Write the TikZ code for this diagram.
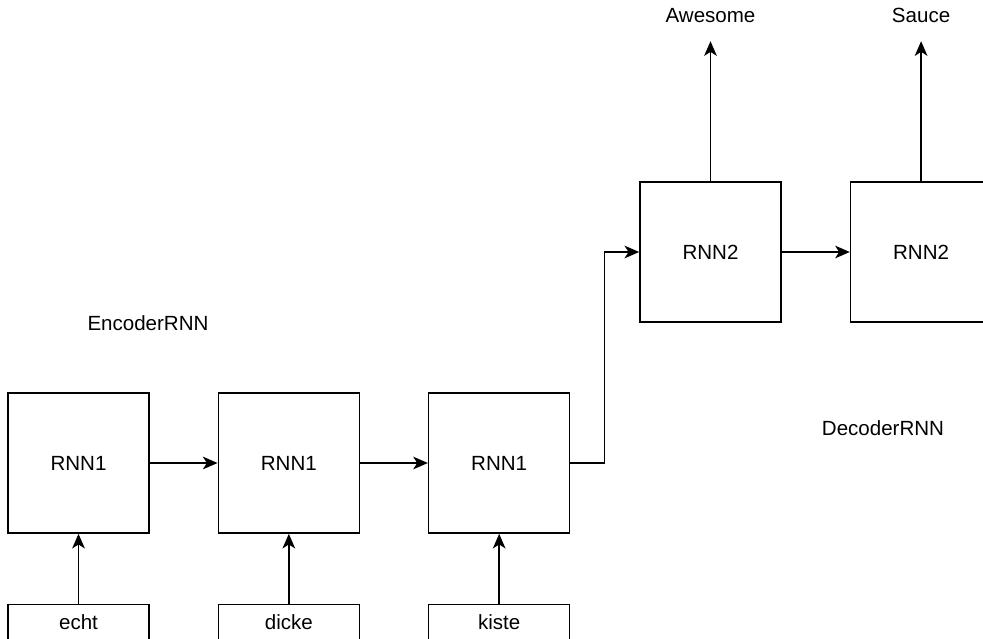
\documentclass[tikz,border=0pt]{standalone}
\usepackage{fontspec}
\setmainfont{Liberation Sans}
\usepackage{tikz}
\usetikzlibrary{arrows.meta,positioning}
\tikzset{
  rnnbox/.style={rectangle,draw=black,line width=1.2pt,fill=white,align=center,minimum width=105.75pt,minimum height=105pt,font=\fontsize{15.4}{18}\selectfont},
  wordbox/.style={rectangle,draw=black,line width=1.2pt,fill=white,align=center,minimum width=105.75pt,minimum height=26.25pt,inner sep=0pt,font=\fontsize{15.4}{18}\selectfont},
  outword/.style={inner sep=0pt,outer ysep=14pt,font=\fontsize{15.4}{18}\selectfont},
  caption/.style={inner sep=0pt,font=\fontsize{15.4}{18}\selectfont},
  link/.style={-{Stealth[length=11pt,width=9.5pt,inset=3pt]},line width=1.2pt,draw=black}
}
\begin{document}
\begin{tikzpicture}[x=0.75pt,y=-0.75pt,node distance=50.8pt]
\clip (0,0) rectangle (983,639);
% encoder
\node[rnnbox] (enc1) at (78.5,463) {RNN1};
\node[rnnbox,right=of enc1] (enc2) {RNN1};
\node[rnnbox,right=of enc2] (enc3) {RNN1};
\node[wordbox,below=52.5pt of enc1] (in1) {echt};
\node[wordbox,below=52.5pt of enc2] (in2) {dicke};
\node[wordbox,below=52.5pt of enc3] (in3) {kiste};
% decoder
\node[rnnbox] (dec1) at (710.5,252) {RNN2};
\node[rnnbox,right=51pt of dec1] (dec2) {RNN2};
\node[outword,above=105pt of dec1] (out1) {Awesome};
\node[outword,above=105pt of dec2] (out2) {Sauce};
% captions
\node[caption] (enclabel) at (148,323) {EncoderRNN};
\node[caption] (declabel) at (883,428) {DecoderRNN};
\draw[link] (in1) -- (enc1);
\draw[link] (in2) -- (enc2);
\draw[link] (in3) -- (enc3);
\draw[link] (enc1) -- (enc2);
\draw[link] (enc2) -- (enc3);
\draw[link] (enc3.east) -- ++(34,0) |- (dec1.west);
\draw[link] (dec1) -- (dec2);
\draw[link] (dec1) -- (out1);
\draw[link] (dec2) -- (out2);
\end{tikzpicture}
\end{document}
